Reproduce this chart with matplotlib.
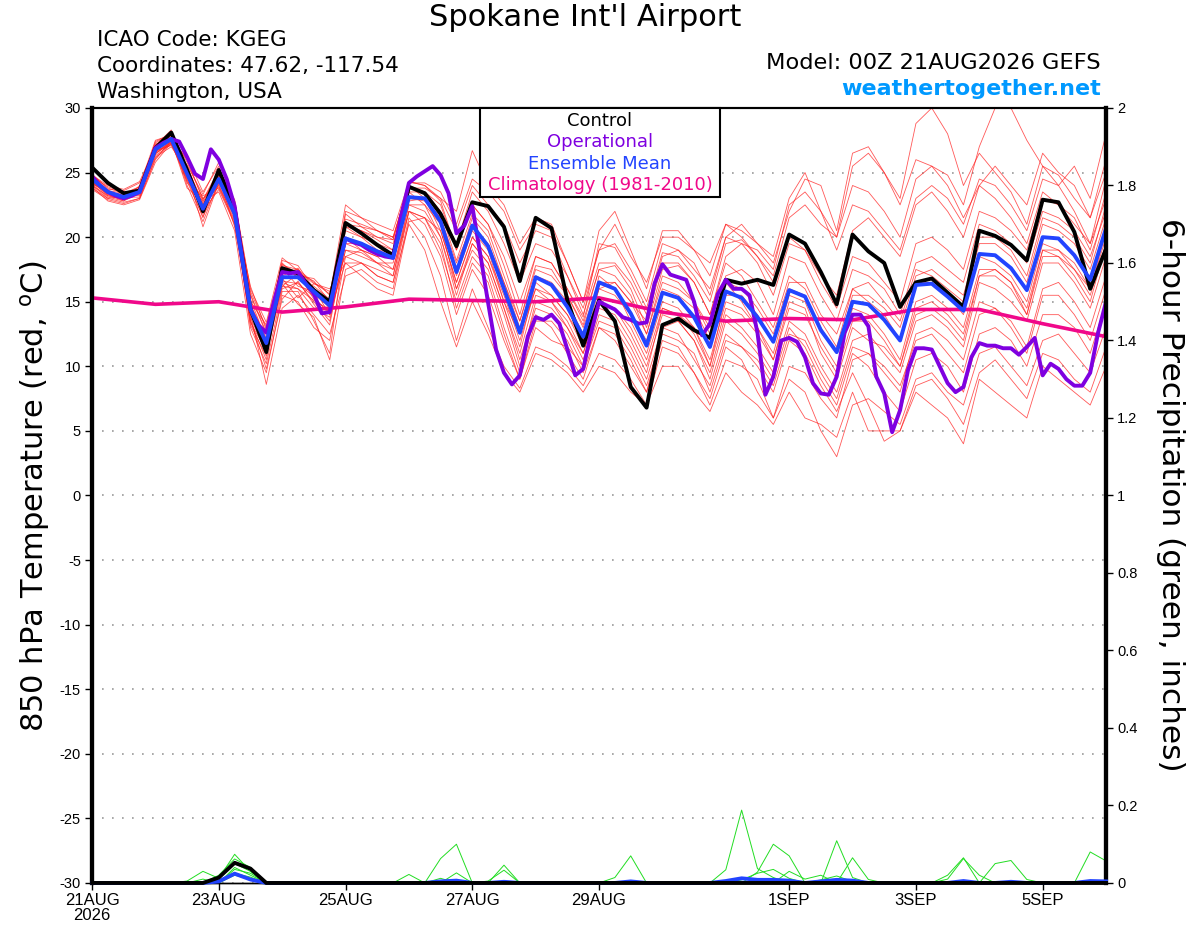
import numpy as np
import pandas as pd
import matplotlib
matplotlib.use('Agg')
from matplotlib import pyplot as plt
from matplotlib.patches import Rectangle

plt.rcParams['font.family'] = ['Liberation Sans', 'DejaVu Sans']
plt.rcParams['axes.unicode_minus'] = False

# 6-hourly GEFS steps, 3-hourly operational, daily climatology
times = pd.date_range('2026-08-21 00:00', periods=65, freq='6h')
op_times = pd.date_range('2026-08-21 00:00', periods=129, freq='3h')
clim_times = pd.date_range('2026-08-21 00:00', periods=17, freq='D')

tick_dates = ['2026-08-21', '2026-08-23', '2026-08-25', '2026-08-27',
              '2026-08-29', '2026-09-01', '2026-09-03', '2026-09-05']
tick_labels = ['21AUG\n2026', '23AUG', '25AUG', '27AUG', '29AUG', '1SEP', '3SEP', '5SEP']
precip_ticks = [0, 0.2, 0.4, 0.6, 0.8, 1.0, 1.2, 1.4, 1.6, 1.8, 2.0]
precip_tick_labels = ['0', '0.2', '0.4', '0.6', '0.8', '1', '1.2', '1.4', '1.6', '1.8', '2']

# 850 hPa temperature (C)
control = [25.4, 24.2, 23.4, 23.6, 26.9, 28.1, 25.2, 22.0, 25.2, 22.2, 14.4, 11.1, 17.6, 17.2, 15.9, 15.0,
           21.1, 20.3, 19.4, 18.6, 23.9, 23.4, 21.8, 19.3, 22.7, 22.4, 20.8, 16.6, 21.5, 20.7, 15.1, 11.6,
           15.1, 13.5, 8.4, 6.8, 13.2, 13.7, 12.8, 12.2, 16.7, 16.4, 16.7, 16.3, 20.2, 19.5, 17.3, 14.8,
           20.2, 18.9, 18.0, 14.6, 16.5, 16.8, 15.7, 14.6, 20.5, 20.1, 19.4, 18.2, 22.9, 22.7, 20.4, 16.0, 19.1]

ens_mean = [24.5, 23.5, 23.1, 23.5, 26.8, 27.6, 24.9, 22.2, 24.5, 21.8, 14.4, 11.8, 16.9, 16.9, 15.8, 14.7,
            19.9, 19.5, 18.9, 18.4, 23.1, 23.0, 21.2, 17.3, 20.9, 19.3, 16.0, 12.6, 16.9, 16.3, 14.6, 12.3,
            16.5, 16.0, 14.1, 11.6, 15.7, 15.3, 13.8, 11.5, 15.8, 15.3, 13.8, 11.9, 15.9, 15.4, 12.8, 11.1,
            15.0, 14.8, 13.6, 12.0, 16.3, 16.4, 15.4, 14.3, 18.7, 18.6, 17.6, 15.9, 20.0, 19.9, 18.6, 16.7, 20.7]

operational = [24.7, 24.0, 23.5, 23.2, 23.0, 23.2, 23.5, 25.2, 26.9, 27.3, 27.6, 27.4, 26.2, 24.9, 24.5, 26.8,
               26.0, 24.5, 22.4, 18.2, 14.4, 13.2, 12.6, 15.1, 17.3, 17.2, 17.3, 16.4, 15.6, 14.1, 14.2, 17.5,
               19.9, 19.6, 19.4, 19.0, 18.7, 18.5, 18.4, 21.6, 24.2, 24.7, 25.1, 25.5, 24.8, 23.4, 20.3, 20.9,
               22.4, 18.7, 14.9, 11.3, 9.5, 8.6, 9.3, 12.3, 13.8, 13.6, 14.0, 13.3, 11.3, 9.3, 9.8, 12.6,
               15.0, 14.7, 14.4, 13.8, 13.6, 13.3, 13.4, 16.4, 17.9, 17.1, 16.9, 16.7, 15.0, 12.4, 13.3, 15.6,
               16.7, 16.0, 16.0, 15.5, 12.6, 7.8, 9.2, 12.0, 12.2, 11.9, 10.7, 8.7, 7.9, 7.8, 9.2, 12.6,
               14.0, 14.0, 13.1, 9.2, 7.9, 4.9, 6.6, 9.7, 11.4, 11.4, 11.3, 10.0, 8.7, 8.0, 8.4, 10.7,
               11.8, 11.6, 11.6, 11.4, 11.4, 10.9, 11.5, 12.2, 9.3, 10.2, 9.8, 9.0, 8.5, 8.5, 9.5, 12.6, 15.0]

climatology = [15.3, 14.8, 15.0, 14.2, 14.6, 15.2, 15.1, 15.0, 15.3, 14.2, 13.5, 13.7, 13.6, 14.4, 14.4, 13.3, 12.3]

member01 = [24.0, 23.2, 22.9, 23.8, 27.3, 28.0, 25.8, 23.0, 24.0, 21.0, 13.5, 10.5, 17.8, 17.5, 16.5, 15.6,
            21.4, 21.0, 20.5, 19.8, 24.3, 24.0, 22.8, 19.0, 22.5, 21.0, 17.8, 14.0, 18.5, 18.0, 16.0, 13.8,
            19.5, 19.2, 17.0, 14.5, 18.8, 18.5, 17.0, 15.0, 19.5, 19.8, 18.5, 17.0, 21.5, 22.5, 21.0, 20.0,
            25.5, 26.5, 25.0, 23.0, 28.8, 30.0, 28.0, 24.0, 26.5, 25.0, 23.5, 21.0, 25.5, 24.8, 23.0, 21.5, 25.0]
member02 = [24.8, 23.8, 23.4, 23.2, 26.5, 27.2, 24.5, 21.5, 25.0, 22.5, 15.5, 12.5, 18.2, 17.8, 16.0, 14.0,
            20.8, 20.5, 19.8, 19.0, 23.8, 23.5, 22.0, 18.2, 21.8, 20.5, 17.0, 13.5, 17.8, 17.5, 15.5, 13.2,
            17.5, 17.8, 16.0, 13.0, 17.5, 17.8, 16.5, 14.0, 18.5, 19.5, 19.0, 17.5, 22.5, 23.5, 22.0, 20.0,
            24.0, 23.5, 22.0, 20.0, 24.5, 25.5, 24.8, 22.5, 27.0, 30.0, 30.0, 27.5, 25.5, 24.0, 22.0, 19.5, 24.5]
member03 = [23.8, 23.0, 22.7, 23.0, 26.0, 27.5, 23.8, 22.8, 23.5, 20.5, 12.5, 9.5, 15.5, 15.0, 13.0, 12.0,
            18.5, 18.0, 17.0, 16.5, 22.0, 21.5, 19.0, 15.0, 18.5, 17.0, 13.0, 9.5, 14.0, 13.0, 11.0, 9.0,
            13.0, 12.0, 10.0, 8.0, 12.0, 11.5, 9.5, 7.5, 11.5, 10.5, 8.0, 6.0, 9.0, 8.0, 5.0, 3.0,
            7.0, 7.5, 6.5, 5.5, 9.0, 9.5, 8.0, 7.0, 11.0, 11.5, 10.0, 8.5, 12.0, 12.5, 11.0, 9.5, 13.0]
member04 = [24.3, 23.4, 23.2, 23.6, 27.0, 27.8, 25.0, 20.8, 24.2, 22.0, 13.8, 11.0, 16.0, 16.5, 15.0, 13.5,
            19.0, 18.8, 18.0, 17.5, 22.5, 22.0, 20.0, 16.0, 19.5, 18.0, 14.5, 10.5, 14.5, 14.0, 12.5, 10.0,
            14.0, 13.5, 11.5, 9.0, 13.0, 12.5, 10.5, 8.5, 12.5, 11.5, 10.0, 8.0, 12.0, 11.0, 8.5, 6.5,
            9.5, 7.0, 4.2, 5.0, 8.5, 9.0, 7.5, 5.5, 9.5, 10.5, 9.0, 7.5, 11.0, 10.5, 9.0, 8.0, 11.5]
member05 = [24.6, 23.6, 23.0, 23.7, 26.6, 27.4, 25.5, 22.5, 25.3, 22.8, 15.8, 13.0, 17.5, 17.0, 16.8, 15.5,
            22.5, 21.5, 21.0, 20.5, 24.3, 24.0, 23.0, 22.0, 26.7, 24.0, 22.5, 19.5, 21.5, 21.0, 18.0, 15.0,
            20.5, 22.0, 19.0, 16.0, 20.5, 20.5, 19.0, 18.0, 21.0, 20.0, 18.5, 16.5, 20.0, 19.0, 16.5, 14.5,
            18.5, 18.0, 16.5, 15.0, 19.5, 20.0, 19.0, 17.5, 22.0, 21.5, 20.5, 19.0, 23.0, 22.5, 21.0, 19.5, 23.0]
member06 = [24.1, 23.1, 22.8, 24.0, 27.5, 27.9, 24.2, 23.2, 23.8, 21.2, 14.0, 8.6, 14.5, 15.5, 14.0, 12.5,
            17.0, 17.5, 16.5, 16.0, 21.5, 20.0, 17.0, 12.0, 16.0, 13.0, 10.0, 8.3, 11.5, 11.0, 10.0, 8.5,
            11.0, 10.5, 9.0, 7.0, 11.5, 11.0, 9.5, 7.0, 10.5, 10.0, 9.0, 6.0, 10.0, 9.5, 7.5, 6.0,
            10.5, 11.0, 9.5, 8.0, 12.5, 13.0, 12.0, 10.5, 15.0, 14.5, 13.5, 11.5, 16.0, 16.5, 15.0, 13.0, 17.0]
member07 = [24.7, 23.9, 23.5, 23.4, 26.2, 27.0, 25.2, 22.0, 24.8, 22.3, 14.8, 12.2, 17.2, 17.5, 15.5, 14.8,
            20.5, 20.0, 19.5, 19.0, 23.5, 23.5, 22.5, 19.0, 22.5, 21.0, 18.5, 15.0, 18.5, 18.0, 16.0, 13.5,
            17.5, 17.0, 15.5, 12.5, 17.0, 16.5, 15.0, 12.5, 17.0, 17.5, 16.5, 14.0, 18.5, 18.0, 15.5, 13.5,
            17.5, 17.0, 16.0, 14.0, 18.0, 18.5, 17.5, 16.5, 21.0, 20.5, 19.5, 18.0, 22.0, 21.5, 20.5, 18.5, 22.0]
member08 = [23.9, 22.8, 22.5, 22.9, 25.8, 27.3, 26.2, 23.5, 25.5, 21.5, 13.2, 10.8, 16.5, 16.0, 14.5, 13.8,
            19.0, 18.5, 18.0, 17.0, 22.5, 22.5, 20.0, 15.5, 19.5, 18.0, 14.5, 11.0, 15.5, 15.0, 13.5, 11.0,
            15.0, 14.5, 12.5, 10.0, 14.0, 13.5, 12.0, 9.5, 14.0, 13.0, 11.5, 9.5, 13.5, 12.5, 10.0, 8.0,
            12.0, 12.5, 11.0, 9.5, 13.5, 14.0, 13.0, 11.5, 16.5, 16.0, 15.0, 13.5, 18.0, 18.0, 16.5, 14.5, 18.5]
member09 = [24.4, 23.3, 23.0, 23.5, 26.9, 27.6, 24.7, 22.4, 24.4, 21.9, 16.2, 12.8, 18.0, 16.8, 16.2, 15.2,
            21.0, 20.5, 20.0, 19.5, 23.8, 23.8, 23.0, 20.5, 24.0, 22.5, 21.0, 18.0, 20.5, 20.0, 17.0, 14.5,
            19.0, 19.5, 17.5, 15.0, 19.5, 19.0, 17.5, 16.0, 20.0, 21.0, 19.5, 18.5, 23.0, 25.0, 22.0, 19.0,
            22.5, 22.0, 20.5, 19.0, 23.0, 24.0, 23.0, 21.0, 24.5, 24.0, 22.5, 20.5, 24.5, 24.0, 25.5, 23.0, 28.0]
member10 = [24.2, 23.5, 23.3, 23.9, 27.1, 28.3, 25.3, 21.8, 24.6, 20.8, 14.6, 11.5, 16.2, 17.2, 15.2, 14.2,
            18.0, 18.0, 17.5, 17.0, 22.0, 21.0, 18.5, 14.0, 17.5, 15.5, 12.0, 9.0, 13.0, 12.0, 11.5, 10.0,
            13.5, 13.0, 11.0, 8.5, 12.5, 12.0, 11.0, 8.0, 12.0, 11.5, 10.5, 8.5, 12.5, 12.0, 9.5, 7.5,
            11.5, 11.0, 10.0, 8.5, 12.0, 12.5, 11.0, 9.5, 14.0, 14.5, 13.0, 11.0, 15.5, 15.5, 14.0, 12.0, 16.0]
member11 = [24.9, 23.7, 23.6, 24.2, 26.4, 27.5, 24.4, 22.6, 23.9, 21.6, 13.0, 10.2, 15.8, 15.8, 13.5, 11.0,
            20.0, 19.0, 18.0, 18.0, 23.0, 22.8, 21.5, 18.0, 21.0, 19.5, 16.5, 13.0, 17.0, 16.5, 15.0, 12.5,
            16.0, 15.5, 14.0, 12.0, 16.0, 15.5, 14.5, 12.0, 16.5, 16.0, 14.5, 12.5, 16.5, 16.5, 14.0, 12.5,
            16.0, 16.5, 15.0, 13.5, 17.5, 17.0, 16.0, 15.0, 19.5, 19.5, 18.5, 16.5, 21.0, 20.5, 19.5, 17.5, 21.5]
member12 = [24.0, 23.0, 23.2, 23.3, 26.7, 27.1, 25.6, 23.3, 25.8, 22.6, 15.2, 12.0, 17.6, 16.2, 15.8, 14.5,
            21.8, 20.8, 20.5, 20.0, 24.0, 23.0, 20.5, 16.5, 20.0, 18.5, 15.5, 12.0, 16.0, 15.5, 14.0, 11.5,
            16.0, 16.5, 15.0, 13.5, 18.0, 18.0, 16.5, 14.0, 18.0, 17.0, 15.0, 13.0, 17.0, 16.0, 13.5, 11.5,
            16.0, 15.0, 14.0, 12.0, 16.5, 16.5, 15.5, 14.0, 18.5, 18.0, 17.0, 15.0, 19.5, 19.0, 18.0, 16.0, 20.0]
member13 = [24.5, 23.6, 22.9, 23.6, 27.2, 27.7, 24.0, 21.2, 24.3, 22.2, 14.2, 11.3, 16.8, 15.3, 16.4, 15.8,
            18.5, 19.0, 18.5, 18.5, 22.8, 23.0, 21.0, 17.0, 20.5, 19.0, 15.0, 11.5, 16.5, 15.5, 14.0, 12.0,
            17.0, 16.0, 13.5, 11.0, 15.0, 14.5, 13.0, 10.5, 15.0, 14.5, 13.0, 11.0, 15.5, 15.0, 12.0, 10.0,
            14.5, 14.0, 12.5, 10.5, 15.0, 15.5, 14.5, 13.0, 17.5, 17.5, 16.5, 14.5, 19.0, 19.0, 17.5, 15.5, 19.5]
member14 = [24.3, 23.2, 23.1, 23.1, 26.3, 27.2, 25.0, 22.1, 24.7, 21.4, 13.6, 9.8, 15.2, 16.6, 14.8, 13.2,
            19.5, 19.0, 18.5, 17.5, 22.0, 21.5, 19.5, 14.5, 18.0, 16.5, 12.5, 9.0, 13.5, 13.5, 12.0, 9.5,
            13.0, 12.5, 10.5, 8.0, 13.0, 13.5, 12.0, 9.0, 13.5, 12.5, 11.0, 9.0, 13.0, 11.5, 9.0, 7.0,
            11.0, 10.0, 8.0, 6.5, 10.5, 11.0, 10.0, 8.0, 12.5, 13.0, 12.0, 10.0, 14.0, 14.0, 13.0, 11.0, 15.0]
member15 = [24.6, 23.4, 23.3, 23.8, 26.8, 27.9, 25.4, 22.7, 25.1, 22.4, 15.6, 12.6, 17.0, 17.6, 15.6, 14.6,
            22.0, 21.5, 20.5, 20.0, 24.0, 23.5, 22.0, 19.5, 23.5, 22.0, 19.5, 16.5, 19.5, 19.0, 17.0, 14.0,
            18.0, 18.0, 16.5, 14.0, 18.5, 19.0, 18.0, 15.5, 20.0, 19.5, 18.0, 15.5, 19.5, 19.0, 17.0, 15.5,
            20.5, 21.5, 20.0, 18.5, 22.5, 23.5, 22.0, 20.0, 24.0, 25.5, 24.0, 22.5, 26.5, 25.0, 24.0, 21.5, 26.0]
member16 = [23.7, 22.9, 22.6, 23.0, 26.1, 27.4, 24.6, 22.0, 23.7, 21.0, 14.2, 11.6, 16.4, 14.8, 13.8, 10.5,
            17.5, 18.0, 17.0, 16.5, 21.0, 19.0, 15.0, 11.5, 15.0, 12.5, 9.5, 8.0, 11.0, 10.5, 9.5, 8.0,
            10.0, 9.5, 8.0, 7.0, 10.0, 10.0, 8.0, 6.5, 9.5, 8.0, 7.0, 5.5, 8.0, 6.0, 5.5, 4.5,
            8.0, 5.0, 5.0, 5.0, 8.0, 7.0, 6.0, 4.0, 9.0, 8.0, 7.0, 6.0, 10.0, 9.0, 8.0, 7.0, 10.0]
member17 = [24.8, 24.0, 23.7, 24.3, 27.0, 27.6, 26.0, 22.9, 24.9, 22.0, 15.0, 13.2, 17.9, 17.2, 16.6, 15.0,
            20.8, 20.0, 19.0, 18.8, 23.5, 22.5, 21.0, 16.0, 19.0, 17.5, 14.0, 10.0, 15.0, 14.5, 13.0, 10.5,
            14.5, 14.0, 12.0, 9.5, 14.5, 14.0, 13.0, 10.0, 15.5, 15.5, 14.0, 12.0, 16.0, 15.5, 13.0, 11.0,
            15.5, 15.5, 14.5, 13.0, 17.0, 17.5, 16.5, 15.5, 20.0, 20.0, 19.0, 17.0, 21.5, 21.0, 20.0, 18.0, 22.5]
member18 = [24.2, 23.3, 22.8, 23.4, 26.6, 27.3, 24.3, 21.6, 24.1, 21.3, 13.4, 11.2, 16.6, 16.4, 15.4, 14.0,
            21.0, 20.8, 20.0, 19.8, 24.2, 24.2, 23.5, 21.0, 24.5, 23.5, 22.0, 19.0, 21.0, 20.5, 18.0, 15.0,
            19.0, 21.0, 18.5, 16.5, 20.0, 20.0, 19.0, 17.0, 21.0, 20.5, 19.5, 18.0, 22.0, 24.5, 24.0, 20.5,
            26.5, 27.0, 25.0, 22.5, 26.0, 25.5, 24.0, 21.5, 24.0, 23.0, 21.5, 19.5, 23.5, 22.5, 21.5, 19.0, 23.5]
member19 = [24.4, 23.5, 23.2, 23.6, 27.4, 28.0, 25.1, 22.3, 24.6, 22.1, 14.8, 11.4, 16.2, 16.0, 15.1, 14.4,
            19.5, 19.5, 19.0, 18.5, 23.0, 23.0, 21.5, 17.5, 21.5, 20.0, 16.5, 13.5, 17.5, 17.0, 15.5, 13.0,
            16.5, 16.5, 15.0, 12.5, 16.5, 16.0, 15.0, 13.0, 16.5, 15.0, 13.0, 10.5, 14.5, 14.0, 11.5, 9.5,
            13.5, 13.5, 12.0, 10.0, 14.0, 14.5, 13.5, 12.0, 17.0, 17.5, 16.5, 14.0, 18.5, 18.5, 17.5, 16.0, 20.5]
member20 = [24.1, 23.6, 23.4, 23.9, 26.5, 27.3, 24.8, 22.9, 25.2, 22.9, 16.0, 13.4, 18.4, 17.4, 16.4, 16.0,
            18.0, 17.0, 16.0, 15.5, 21.2, 21.5, 20.5, 16.5, 20.0, 18.5, 15.0, 12.5, 16.0, 15.0, 13.0, 11.0,
            15.0, 14.5, 13.0, 10.5, 14.5, 14.0, 12.5, 10.0, 14.5, 14.0, 12.5, 10.5, 15.0, 14.5, 11.0, 9.0,
            13.0, 12.0, 11.5, 10.0, 14.5, 15.0, 14.0, 12.5, 17.0, 17.0, 16.0, 14.0, 19.0, 18.5, 17.0, 15.0, 19.5]

# 6-hour precipitation (inches); only non-zero steps listed, step index -> value
precip_control = {8: 0.014, 9: 0.052, 10: 0.037}
precip_mean = {8: 0.004, 9: 0.024, 10: 0.009, 22: 0.004, 23: 0.006, 26: 0.003, 34: 0.004,
               40: 0.005, 41: 0.012, 42: 0.008, 43: 0.008, 44: 0.006, 46: 0.004, 47: 0.008,
               48: 0.006, 55: 0.005, 58: 0.003, 63: 0.005, 64: 0.004}
precip_m1 = {6: 0.005, 7: 0.03, 8: 0.012, 9: 0.074, 10: 0.03, 40: 0.034, 41: 0.188, 42: 0.037, 43: 0.014}
precip_m2 = {8: 0.02, 9: 0.062, 10: 0.04, 22: 0.063, 23: 0.10, 42: 0.028, 43: 0.10, 44: 0.07}
precip_m3 = {8: 0.01, 9: 0.05, 10: 0.03, 20: 0.022, 26: 0.046, 47: 0.109, 48: 0.014}
precip_m4 = {9: 0.04, 10: 0.02, 23: 0.026, 25: 0.005, 26: 0.033, 48: 0.065, 49: 0.009, 54: 0.02, 55: 0.065}
precip_m5 = {7: 0.01, 9: 0.035, 10: 0.025, 33: 0.014, 34: 0.07, 57: 0.05, 58: 0.058, 59: 0.009}
precip_m6 = {9: 0.025, 10: 0.015, 22: 0.012, 44: 0.03, 45: 0.01, 46: 0.02, 54: 0.01, 55: 0.063,
             56: 0.02, 63: 0.08, 64: 0.057}
precip_m7 = {9: 0.02, 10: 0.01, 41: 0.008, 42: 0.025, 43: 0.035, 44: 0.012, 46: 0.008, 47: 0.018, 48: 0.004}

members = [member01, member02, member03, member04, member05, member06, member07, member08, member09, member10,
           member11, member12, member13, member14, member15, member16, member17, member18, member19, member20]
precip_members = [precip_m1, precip_m2, precip_m3, precip_m4, precip_m5, precip_m6, precip_m7]


def full_series(sparse):
    s = np.zeros(len(times))
    for k, v in sparse.items():
        s[k] = v
    return s


fig = plt.figure(figsize=(12, 9.27), dpi=100)
ax = fig.add_axes([0.0767, 0.0475, 0.845, 0.836])
ax2 = ax.twinx()

for m in members:
    ax.plot(times, m, color='#ff2020', lw=0.6, alpha=0.75, zorder=2)
ax.plot(clim_times, climatology, color='#f0088a', lw=2.6, zorder=3)
ax.plot(times, control, color='black', lw=2.8, zorder=4)
ax.plot(op_times, operational, color='#7f00e0', lw=2.8, zorder=5)
ax.plot(times, ens_mean, color='#2244ff', lw=2.8, zorder=6)

for p in precip_members:
    ax2.plot(times, full_series(p), color='#22dd22', lw=0.7, clip_on=False, zorder=2)
ax2.plot(times, full_series(precip_mean), color='#2244ff', lw=2.8, clip_on=False, zorder=3)
ax2.plot(times, full_series(precip_control), color='black', lw=2.8, clip_on=False, zorder=4)

ax.set_xlim(times[0], times[-1])
ax.set_ylim(-30, 30)
ax2.set_ylim(0, 2)

ax.set_yticks(np.arange(-30, 31, 5))
ax.yaxis.grid(True, linestyle=(0, (1, 5)), color='#999999', lw=1.2)
ax.tick_params(axis='y', direction='out', length=5, width=1, labelsize=10.5, pad=3)
ax.set_xticks(pd.to_datetime(tick_dates))
ax.set_xticklabels(tick_labels)
ax.tick_params(axis='x', direction='out', length=5, width=1, labelsize=12, pad=2)
for lbl in ax.get_xticklabels():
    lbl.set_linespacing(1.0)

ax2.set_yticks(precip_ticks)
ax2.set_yticklabels(precip_tick_labels)
ax2.tick_params(axis='y', direction='out', length=5, width=1, labelsize=10.5, pad=3)

for a in (ax, ax2):
    a.spines['left'].set_linewidth(3)
    a.spines['right'].set_linewidth(3)
    a.spines['top'].set_linewidth(1.5)
    a.spines['bottom'].set_linewidth(1)

# legend box hanging from the top of the plot
ax2.add_patch(Rectangle((0.383, 0.885), 0.236, 0.115, transform=ax2.transAxes,
                        facecolor='white', edgecolor='black', lw=1.5, zorder=10, clip_on=False))
legend_items = [('Control', 'black'), ('Operational', '#7f00e0'),
                ('Ensemble Mean', '#2244ff'), ('Climatology (1981-2010)', '#f0088a')]
for k, (txt, col) in enumerate(legend_items):
    ax2.text(0.501, 0.983 - k * 0.0275, txt, color=col, fontsize=13, family='DejaVu Sans',
             ha='center', va='center', transform=ax2.transAxes, zorder=11)

head = dict(family='DejaVu Sans', va='center')
fig.text(0.488, 0.9806, "Spokane Int'l Airport", fontsize=22, ha='center', **head)
fig.text(0.081, 0.957, 'ICAO Code: KGEG', fontsize=15.5, ha='left', **head)
fig.text(0.081, 0.929, 'Coordinates: 47.62, -117.54', fontsize=15.5, ha='left', **head)
fig.text(0.081, 0.901, 'Washington, USA', fontsize=15.5, ha='left', **head)
fig.text(0.9175, 0.932, 'Model: 00Z 21AUG2026 GEFS', fontsize=16.2, ha='right', **head)
fig.text(0.9175, 0.904, 'weathertogether.net', fontsize=16, fontweight='bold', color='#0099ff',
         ha='right', **head)
fig.text(0.029, 0.465, r'850 hPa Temperature (red, $^{\mathrm{o}}$C)', fontsize=22, rotation=90,
         ha='center', **head)
fig.text(0.975, 0.466, '6-hour Precipitation (green, inches)', fontsize=22.5, rotation=270,
         ha='center', **head)

fig.savefig('out.png', dpi=100)
